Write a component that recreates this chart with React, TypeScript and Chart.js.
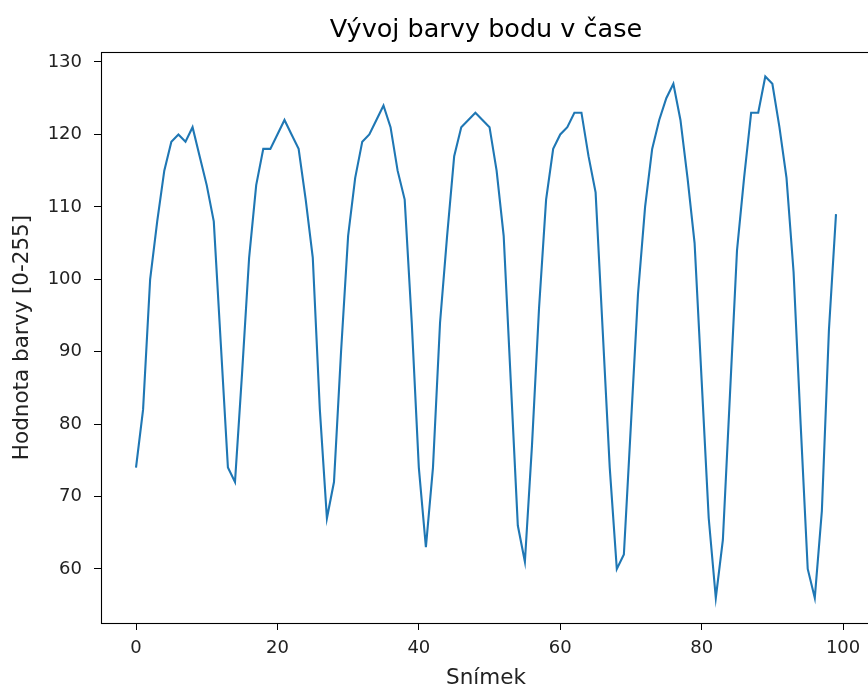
import React, { useEffect, useRef } from "react";
import { Chart, registerables } from "chart.js";

Chart.register(...registerables);

const frames: number[] = [
  0, 1, 2, 3, 4, 5, 6, 7, 8, 9,
  10, 11, 12, 13, 14, 15, 16, 17, 18, 19,
  20, 21, 22, 23, 24, 25, 26, 27, 28, 29,
  30, 31, 32, 33, 34, 35, 36, 37, 38, 39,
  40, 41, 42, 43, 44, 45, 46, 47, 48, 49,
  50, 51, 52, 53, 54, 55, 56, 57, 58, 59,
  60, 61, 62, 63, 64, 65, 66, 67, 68, 69,
  70, 71, 72, 73, 74, 75, 76, 77, 78, 79,
  80, 81, 82, 83, 84, 85, 86, 87, 88, 89,
  90, 91, 92, 93, 94, 95, 96, 97, 98, 99,
];

const colorValues: number[] = [
  74, 82, 100, 108, 115, 119, 120, 119, 121, 117,
  113, 108, 91, 74, 72, 87, 103, 113, 118, 118,
  120, 122, 120, 118, 111, 103, 82, 67, 72, 90,
  106, 114, 119, 120, 122, 124, 121, 115, 111, 94,
  74, 63, 74, 94, 106, 117, 121, 122, 123, 122,
  121, 115, 106, 86, 66, 61, 77, 96, 111, 118,
  120, 121, 123, 123, 117, 112, 93, 74, 60, 62,
  80, 98, 110, 118, 122, 125, 127, 122, 114, 105,
  86, 67, 56, 64, 84, 104, 114, 123, 123, 128,
  127, 121, 114, 101, 80, 60, 56, 68, 93, 109,
];

const xTickValues: number[] = [0, 20, 40, 60, 80, 100];
const yTickValues: number[] = [60, 70, 80, 90, 100, 110, 120, 130];

const titleText = "Vývoj barvy bodu v čase";
const xTitle = "Snímek";
const yTitle = "Hodnota barvy [0-255]";

const FONT = "'DejaVu Sans', sans-serif";

const frameBox = {
  id: "frameBox",
  afterDatasetsDraw(chart: any) {
    const { ctx, chartArea } = chart;
    ctx.save();
    ctx.strokeStyle = "#000";
    ctx.lineWidth = 1.1;
    ctx.strokeRect(
      Math.round(chartArea.left) + 0.5,
      Math.round(chartArea.top) + 0.5,
      Math.round(chartArea.right - chartArea.left),
      Math.round(chartArea.bottom - chartArea.top)
    );
    ctx.restore();
  },
};

export default function App() {
  const ref = useRef<HTMLCanvasElement | null>(null);

  useEffect(() => {
    if (!ref.current) return;
    const points = frames.map((f, i) => ({ x: f, y: colorValues[i] }));
    const chart = new Chart(ref.current, {
      type: "scatter",
      data: {
        datasets: [
          {
            data: points,
            showLine: true,
            borderColor: "#1f77b4",
            backgroundColor: "#1f77b4",
            borderWidth: 2.1,
            pointRadius: 0,
            pointHoverRadius: 0,
            tension: 0,
          },
        ],
      },
      options: {
        responsive: false,
        animation: false,
        layout: { padding: { left: 0, top: 0, right: 9, bottom: 0 } },
        plugins: {
          legend: { display: false },
          tooltip: { enabled: false },
          title: {
            display: true,
            fullSize: false,
            text: titleText,
            color: "#000",
            font: { family: FONT, size: 25.5, weight: "normal" as any, lineHeight: 1.2 },
            padding: { top: 15.5, bottom: 5.9 },
          },
        },
        scales: {
          x: {
            type: "linear",
            min: -4.95,
            max: 103.95,
            afterBuildTicks: (scale: any) => {
              scale.ticks = xTickValues.map((v) => ({ value: v }));
            },
            afterFit: (scale: any) => {
              scale.height = 64;
            },
            grid: {
              display: true,
              drawOnChartArea: false,
              drawTicks: true,
              tickLength: 7,
              tickColor: "#000",
              tickWidth: 1,
            },
            border: { display: false },
            ticks: {
              color: "#222",
              padding: 8,
              maxRotation: 0,
              autoSkip: false,
              font: { family: FONT, size: 18 },
            },
            title: {
              display: true,
              text: xTitle,
              color: "#222",
              font: { family: FONT, size: 21.5, lineHeight: 0.8 },
              padding: { top: 0, bottom: 0 },
            },
          },
          y: {
            type: "linear",
            min: 52.54,
            max: 131.38,
            afterBuildTicks: (scale: any) => {
              scale.ticks = yTickValues.map((v) => ({ value: v }));
            },
            afterFit: (scale: any) => {
              scale.width = 101;
            },
            grid: {
              display: true,
              drawOnChartArea: false,
              drawTicks: true,
              tickLength: 7,
              tickColor: "#000",
              tickWidth: 1,
            },
            border: { display: false },
            ticks: {
              color: "#222",
              padding: 12,
              autoSkip: false,
              font: { family: FONT, size: 18 },
            },
            title: {
              display: true,
              text: yTitle,
              color: "#222",
              font: { family: FONT, size: 21.5, lineHeight: 1.2 },
              padding: { top: 9.6, bottom: 0 },
            },
          },
        },
      },
      plugins: [frameBox],
    });
    return () => chart.destroy();
  }, []);

  return (
    <div
      style={{
        position: "fixed",
        left: 0,
        top: 0,
        width: 868,
        height: 687,
        overflow: "hidden",
        background: "#fff",
      }}
    >
      <canvas ref={ref} width={880} height={687} style={{ display: "block" }} />
    </div>
  );
}
